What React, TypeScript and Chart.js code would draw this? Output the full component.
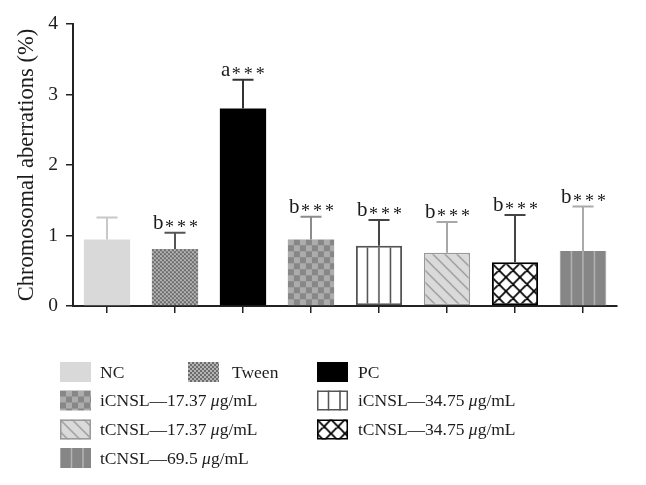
import React, { useEffect, useRef } from 'react';
import { Chart, registerables } from 'chart.js';

Chart.register(...registerables);

// ---------- data ----------
const categories = [
  'NC',
  'Tween',
  'PC',
  'iCNSL—17.37 μg/mL',
  'iCNSL—34.75 μg/mL',
  'tCNSL—17.37 μg/mL',
  'tCNSL—34.75 μg/mL',
  'tCNSL—69.5 μg/mL',
];
const means = [0.945, 0.81, 2.8, 0.945, 0.855, 0.755, 0.62, 0.78];
const upperErrors = [0.31, 0.23, 0.41, 0.32, 0.365, 0.435, 0.67, 0.63];
const sigLetters = ['', 'b', 'a', 'b', 'b', 'b', 'b', 'b'];
const sigStars = ['', '***', '***', '***', '***', '***', '***', '***'];
const yTicks = [0, 1, 2, 3, 4];

// ---------- styles ----------
const SERIF = "'Liberation Serif', 'Times New Roman', serif";
const TEXT = '#1c1c1c';

type Kind = 'solid' | 'fineCheck' | 'coarseCheck' | 'vlines' | 'diag' | 'cross' | 'grayVlines';
interface BarStyle { kind: Kind; color?: string; border?: string; borderWidth: number; err: string; }
const barStyles: BarStyle[] = [
  { kind: 'solid', color: '#d9d9d9', borderWidth: 0, err: '#c8c8c8' },
  { kind: 'fineCheck', borderWidth: 0, err: '#555555' },
  { kind: 'solid', color: '#000000', borderWidth: 0, err: '#333333' },
  { kind: 'coarseCheck', borderWidth: 0, err: '#8c8c8c' },
  { kind: 'vlines', border: '#555555', borderWidth: 2, err: '#444444' },
  { kind: 'diag', border: '#999999', borderWidth: 1.5, err: '#a8a8a8' },
  { kind: 'cross', border: '#000000', borderWidth: 2, err: '#444444' },
  { kind: 'grayVlines', borderWidth: 0, err: '#aaaaaa' },
];

// legend layout (column, row)
const legendCol = [0, 1, 2, 0, 2, 0, 2, 0];
const legendRow = [0, 0, 0, 1, 1, 2, 2, 3];

function tile(w: number, h: number, draw: (g: CanvasRenderingContext2D) => void) {
  const c = document.createElement('canvas');
  c.width = w;
  c.height = h;
  const g = c.getContext('2d')!;
  draw(g);
  return c;
}

function makeFill(ctx: CanvasRenderingContext2D, s: BarStyle): string | CanvasPattern {
  if (s.kind === 'solid') return s.color!;
  let t: HTMLCanvasElement;
  switch (s.kind) {
    case 'fineCheck':
      t = tile(4, 4, (g) => {
        g.fillStyle = '#b4b4b4'; g.fillRect(0, 0, 4, 4);
        g.fillStyle = '#6c6c6c'; g.fillRect(0, 0, 2, 2); g.fillRect(2, 2, 2, 2);
      });
      break;
    case 'coarseCheck':
      t = tile(12, 12, (g) => {
        g.fillStyle = '#acacac'; g.fillRect(0, 0, 12, 12);
        g.fillStyle = '#878787'; g.fillRect(0, 0, 6, 6); g.fillRect(6, 6, 6, 6);
      });
      break;
    case 'vlines':
    case 'grayVlines': {
      const bg = s.kind === 'vlines' ? '#ffffff' : '#868686';
      const fg = s.kind === 'vlines' ? '#4d4d4d' : '#b4b4b4';
      t = tile(23, 4, (g) => {
        g.fillStyle = bg; g.fillRect(0, 0, 23, 4);
        g.fillStyle = fg;
        g.fillRect(0, 0, 0.75, 4); g.fillRect(22.25, 0, 0.75, 4); g.fillRect(10.75, 0, 1.5, 4);
      });
      break;
    }
    case 'diag':
      t = tile(12, 12, (g) => {
        g.fillStyle = '#dadada'; g.fillRect(0, 0, 12, 12);
        g.strokeStyle = '#8c8c8c'; g.lineWidth = 1.2;
        g.beginPath();
        g.moveTo(-2, -2); g.lineTo(14, 14);
        g.moveTo(10, -2); g.lineTo(14, 2);
        g.moveTo(-2, 10); g.lineTo(2, 14);
        g.stroke();
      });
      break;
    case 'cross':
    default:
      t = tile(14, 14, (g) => {
        g.fillStyle = '#ffffff'; g.fillRect(0, 0, 14, 14);
        g.strokeStyle = '#000000'; g.lineWidth = 1.7;
        g.beginPath();
        g.moveTo(-2, -2); g.lineTo(16, 16);
        g.moveTo(12, -2); g.lineTo(16, 2);
        g.moveTo(-2, 12); g.lineTo(2, 16);
        g.moveTo(-2, 16); g.lineTo(16, -2);
        g.moveTo(-2, 2); g.lineTo(2, -2);
        g.moveTo(12, 16); g.lineTo(16, 12);
        g.stroke();
      });
      break;
  }
  return ctx.createPattern(t, 'repeat')!;
}

function alignFill(fill: string | CanvasPattern, x: number, y: number) {
  if (typeof fill !== 'string' && (fill as any).setTransform) {
    (fill as CanvasPattern).setTransform(new DOMMatrix([1, 0, 0, 1, x, y]));
  }
}

function drawRich(ctx: CanvasRenderingContext2D, text: string, x: number, y: number, size: number) {
  const parts = text.split('μ');
  let cx = x;
  parts.forEach((p, i) => {
    if (i > 0) {
      ctx.font = `italic ${size}px ${SERIF}`;
      ctx.fillText('μ', cx, y);
      cx += ctx.measureText('μ').width;
    }
    ctx.font = `${size}px ${SERIF}`;
    ctx.fillText(p, cx, y);
    cx += ctx.measureText(p).width;
  });
}

export default function App() {
  const ref = useRef<HTMLCanvasElement>(null);

  useEffect(() => {
    const canvas = ref.current!;
    const ctx0 = canvas.getContext('2d')!;
    const fills = barStyles.map((s) => makeFill(ctx0, s));

    const patternAlign = {
      id: 'patternAlign',
      beforeDatasetsDraw(chart: any) {
        const meta = chart.getDatasetMeta(0);
        meta.data.forEach((el: any, i: number) => {
          alignFill(fills[i], el.x - el.width / 2, el.base);
        });
      },
    };

    const errorBars = {
      id: 'errorBars',
      afterDatasetsDraw(chart: any) {
        const { ctx } = chart;
        const yScale = chart.scales.y;
        const meta = chart.getDatasetMeta(0);
        ctx.save();
        meta.data.forEach((el: any, i: number) => {
          const yTop = yScale.getPixelForValue(means[i] + upperErrors[i]);
          const yBar = yScale.getPixelForValue(means[i]);
          ctx.strokeStyle = barStyles[i].err;
          ctx.lineWidth = 2;
          ctx.beginPath();
          ctx.moveTo(el.x, yBar);
          ctx.lineTo(el.x, yTop);
          ctx.moveTo(el.x - 10.5, yTop);
          ctx.lineTo(el.x + 10.5, yTop);
          ctx.stroke();
        });
        ctx.restore();
      },
    };

    const annotations = {
      id: 'annotations',
      afterDatasetsDraw(chart: any) {
        const { ctx } = chart;
        const yScale = chart.scales.y;
        const meta = chart.getDatasetMeta(0);
        ctx.save();
        ctx.fillStyle = TEXT;
        ctx.textBaseline = 'alphabetic';
        meta.data.forEach((el: any, i: number) => {
          if (!sigLetters[i]) return;
          const yTop = yScale.getPixelForValue(means[i] + upperErrors[i]);
          const base = yTop - 4;
          const left = el.x - 22;
          ctx.font = `21px ${SERIF}`;
          ctx.textAlign = 'left';
          ctx.fillText(sigLetters[i], left, base);
          const lw = ctx.measureText(sigLetters[i]).width;
          ctx.font = `18px ${SERIF}`;
          ctx.textAlign = 'center';
          for (let k = 0; k < sigStars[i].length; k++) {
            ctx.fillText(sigStars[i][k], left + lw + 6 + k * 12, base + 4);
          }
        });
        ctx.restore();
      },
    };

    const legendPlugin = {
      id: 'customLegend',
      afterDraw(chart: any) {
        const { ctx } = chart;
        const boxX = [60, 188, 317];
        const textX = [100, 232, 358];
        const rowY = [362, 390.5, 419.5, 448];
        const bw = 31;
        const bh = 20;
        ctx.save();
        categories.forEach((label, i) => {
          const c = legendCol[i];
          const r = legendRow[i];
          const x = boxX[c];
          const y = rowY[r];
          const f = fills[i];
          alignFill(f, x, y);
          ctx.fillStyle = f;
          ctx.fillRect(x, y, bw, bh);
          const s = barStyles[i];
          if (s.border && s.borderWidth) {
            ctx.strokeStyle = s.border;
            ctx.lineWidth = 1.5;
            ctx.strokeRect(x + 0.75, y + 0.75, bw - 1.5, bh - 1.5);
          }
          ctx.fillStyle = TEXT;
          ctx.textAlign = 'left';
          ctx.textBaseline = 'middle';
          drawRich(ctx, label, textX[c], y + bh / 2 + 1, 17.5);
        });
        ctx.restore();
      },
    };

    const chart = new Chart(canvas, {
      type: 'bar',
      data: {
        labels: categories,
        datasets: [
          {
            data: means,
            backgroundColor: fills as any,
            borderColor: barStyles.map((s) => s.border || 'rgba(0,0,0,0)'),
            borderWidth: barStyles.map((s) => s.borderWidth),
            borderSkipped: false,
            barPercentage: 0.68,
            categoryPercentage: 1,
          },
        ],
      },
      options: {
        responsive: false,
        animation: false,
        devicePixelRatio: 1,
        events: [],
        layout: { padding: { top: 24, right: 29, bottom: 0, left: 0 } },
        plugins: { legend: { display: false }, tooltip: { enabled: false } },
        scales: {
          x: {
            type: 'category',
            offset: true,
            grid: {
              display: true,
              drawOnChartArea: false,
              drawTicks: true,
              tickLength: 7,
              offset: false,
              color: '#222',
              lineWidth: 1.5,
            },
            border: { display: true, color: '#222', width: 2 },
            ticks: { display: false },
            afterFit: (s: any) => { s.height = 179; },
          },
          y: {
            min: 0,
            max: 4,
            afterBuildTicks: (s: any) => { s.ticks = yTicks.map((v) => ({ value: v })); },
            ticks: { padding: 8, color: TEXT, font: { family: SERIF, size: 19.5 } },
            grid: { display: true, drawOnChartArea: false, tickLength: 7, color: '#222', lineWidth: 1.5 },
            border: { display: true, color: '#222', width: 2 },
            title: {
              display: true,
              text: 'Chromosomal aberrations (%)',
              color: TEXT,
              font: { family: SERIF, size: 22.5 },
              padding: { top: 14, bottom: 0 },
            },
            afterFit: (s: any) => { s.width = 73; },
          },
        },
      } as any,
      plugins: [patternAlign, errorBars, annotations, legendPlugin],
    });

    return () => chart.destroy();
  }, []);

  return (
    <div style={{ position: 'absolute', left: 0, top: 0, width: 646, height: 485, background: '#fff' }}>
      <canvas ref={ref} width={646} height={485} style={{ display: 'block', width: 646, height: 485 }} />
    </div>
  );
}
